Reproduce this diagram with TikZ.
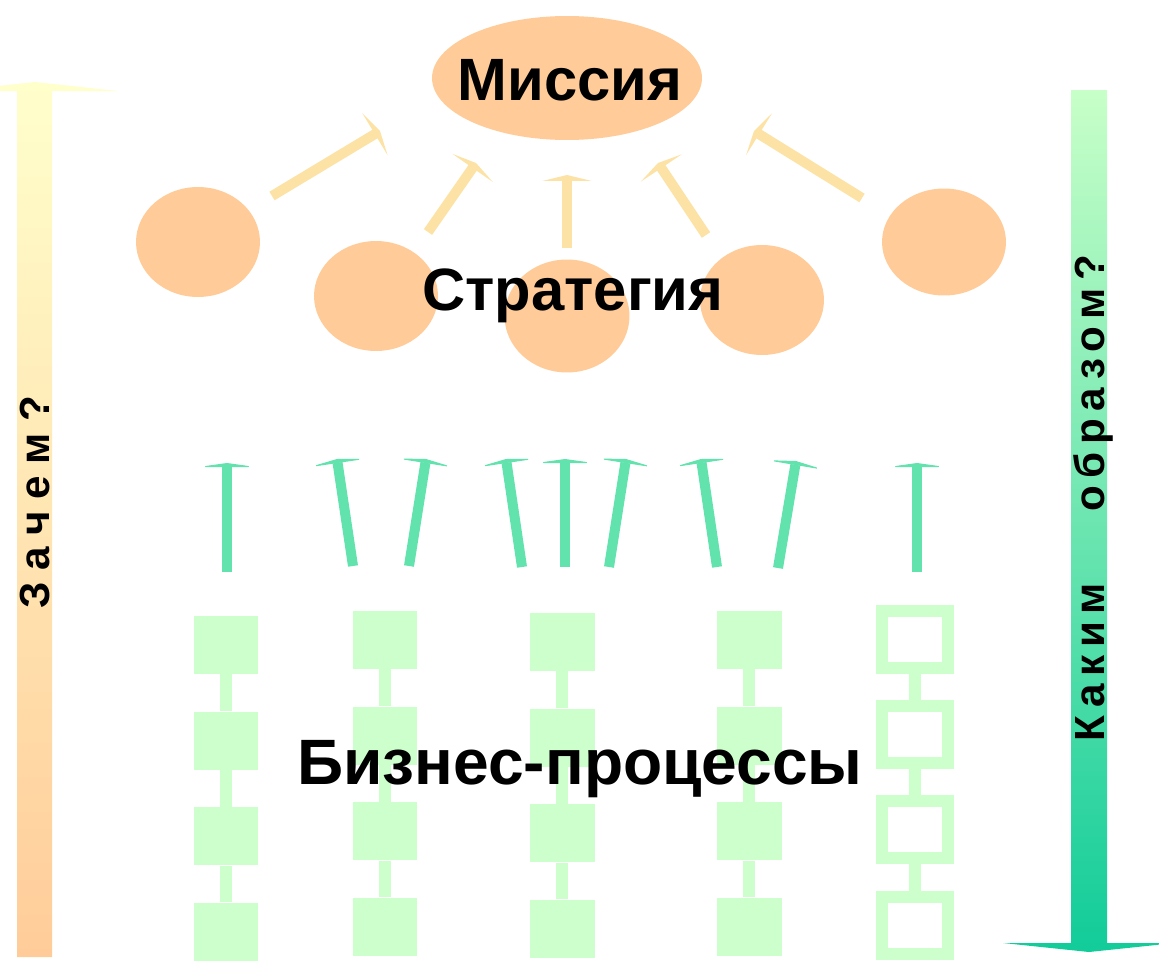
\documentclass[tikz,border=0pt]{standalone}
\usepackage{fontspec}
\setmainfont{Liberation Sans}
\newfontfamily\tracked[LetterSpace=18]{Liberation Sans}
\usetikzlibrary{arrows.meta,shapes.geometric}

\definecolor{peach}{HTML}{FFCC99}
\definecolor{paleyellow}{HTML}{FFFFCC}
\definecolor{sand}{HTML}{FDE2A6}
\definecolor{mint}{HTML}{CCFFCC}
\definecolor{seagreen}{HTML}{62E3AE}
\definecolor{palegreen}{HTML}{C8FFC8}
\definecolor{jade}{HTML}{11CC99}

\begin{document}
\begin{tikzpicture}[
        x=0.02cm, y=-0.02cm,
        every node/.style={font=\bfseries},
        goal/.style={ellipse, fill=peach, inner sep=0pt},
        title/.style={font=\fontsize{34}{40}\selectfont\bfseries, anchor=base},
        side/.style={font=\fontsize{24}{28}\selectfont\bfseries, anchor=base, rotate=90},
        proc/.style={rectangle, fill=mint, inner sep=0pt, minimum width=1.3cm, minimum height=1.16cm},
        procopen/.style={rectangle, draw=mint, fill=white, line width=6.8pt, inner sep=0pt, minimum width=1.32cm, minimum height=1.14cm},
        link/.style={mint, line width=6.8pt},
        upsand/.style={-{Triangle[length=3.4pt, width=28pt]}, sand, line width=5.7pt},
        upgreen/.style={-{Triangle[length=2.3pt, width=33pt]}, seagreen, line width=5.7pt}
    ]
        \clip (0,0) rectangle (1159,960);

        % Side arrows
        \shade[top color=paleyellow, bottom color=peach]
            (17,957) -- (17,91) -- (-48,91) -- (35,82) -- (118,91) -- (52,91) -- (52,957) -- cycle;
        \shade[top color=palegreen, bottom color=jade]
            (1071,90) -- (1107,90) -- (1107,943) -- (1175,943) -- (1089,952) -- (1003,943) -- (1071,943) -- cycle;
        \node[side] (why) at (50,502) {З а ч е м ?};
        \node[side, font=\fontsize{24}{28}\selectfont\tracked\bfseries] (how) at (1104,498) {Каким\hspace{1.7em}образом?};

        % Mission and strategies
        \node[goal, minimum width=5.4cm, minimum height=2.48cm] (mission) at (567,78) {};
        \node[title] (missiontext) at (570,100) {Миссия};
        \node[goal, minimum width=2.48cm, minimum height=2.2cm] (s1) at (198,242) {};
        \node[goal, minimum width=2.48cm, minimum height=2.2cm] (s2) at (376,296) {};
        \node[goal, minimum width=2.5cm, minimum height=2.26cm] (s3) at (567,316) {};
        \node[goal, minimum width=2.48cm, minimum height=2.2cm] (s4) at (762,300) {};
        \node[goal, minimum width=2.48cm, minimum height=2.14cm] (s5) at (944,242) {};
        \node[title] (strategy) at (573,310) {Стратегия};

        % Strategies lead to the mission
        \foreach \fx/\fy/\tx/\ty [count=\i] in {272/196/380/131, 428/232/476/163, 567/248/567/175,
                                                 706/235/658/163, 862/198/754/131} {
            \coordinate (st\i) at (\fx,\fy);
            \coordinate (sh\i) at (\tx,\ty);
            \draw[upsand] (st\i) -- (sh\i);
        }

        % Processes lead to the strategies
        \foreach \fx/\fy/\tx/\ty [count=\i] in {227/572/227/463, 353/566/337/459, 409/566/426/459,
                                                 522/567/506/459, 565/567/565/459, 609/567/626/459,
                                                 717/567/701/459, 778/568/796/461, 917/572/917/463} {
            \coordinate (gt\i) at (\fx,\fy);
            \coordinate (gh\i) at (\tx,\ty);
            \draw[upgreen] (gt\i) -- (gh\i);
        }

        % Process chains
        \foreach \cx/\cy [count=\c] in {226/645, 385/640, 562/642, 749/640} {
            \foreach \k in {0,...,3}
                \node[proc] (p\c-\k) at (\cx,\cy+95.6*\k) {};
            \foreach \k [evaluate=\k as \n using int(\k+1)] in {0,1,2}
                \draw[link] (p\c-\k.south) -- (p\c-\n.north);
        }
        \foreach \k in {0,...,3}
            \node[procopen] (q-\k) at (915,639.5+95.2*\k) {};
        \foreach \k [evaluate=\k as \n using int(\k+1)] in {0,1,2}
            \draw[link] (q-\k.south) -- (q-\n.north);

        \node[title, font=\fontsize{36.5}{42}\selectfont\bfseries] (processes) at (580,784) {Бизнес-процессы};
    \end{tikzpicture}
\end{document}
